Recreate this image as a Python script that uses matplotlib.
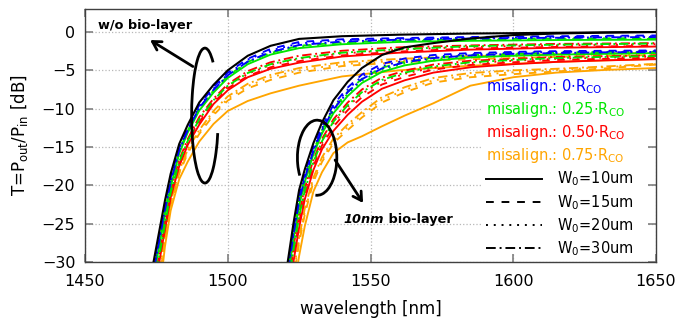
import matplotlib
matplotlib.use("Agg")
import matplotlib.pyplot as plt
import matplotlib.patches as patches
from matplotlib.lines import Line2D

# ---- values, T in dB ----
# w/o bio-layer
wl_free = [1472, 1474, 1476, 1478, 1480, 1483, 1486, 1490, 1495, 1500,
           1507, 1515, 1525, 1540, 1560, 1585, 1615, 1650]
free_black = [-34, -30, -26, -22, -18.5, -14.6, -12.1, -9.2, -6.9, -5.0,
              -3.1, -1.8, -0.9, -0.55, -0.35, -0.2, -0.1, 0.0]
free_blue = {
    15: [-34.7, -30.65, -26.6, -22.6, -19.1, -15.0, -12.4, -9.55, -7.2, -5.3,
         -3.5, -2.2, -1.3, -0.95, -0.8, -0.65, -0.55, -0.45],
    20: [-35.05, -30.95, -26.9, -22.9, -19.3, -15.2, -12.6, -9.7, -7.4, -5.5,
         -3.6, -2.4, -1.5, -1.05, -0.9, -0.75, -0.65, -0.55],
    30: [-35.4, -31.3, -27.25, -23.2, -19.6, -15.4, -12.8, -9.9, -7.55, -5.65,
         -3.85, -2.6, -1.7, -1.25, -1.0, -0.85, -0.75, -0.65],
}
free_green = {
    10: [-36.15, -31.95, -27.9, -23.8, -20.2, -15.85, -13.1, -10.25, -7.9, -6.0,
         -4.2, -2.95, -2.1, -1.6, -1.3, -1.15, -1.05, -1.0],
    15: [-35.6, -31.45, -27.4, -23.35, -19.75, -15.5, -12.85, -10.0, -7.6, -5.75,
         -3.9, -2.7, -1.8, -1.35, -1.1, -0.95, -0.85, -0.8],
    20: [-35.8, -31.6, -27.55, -23.5, -19.9, -15.6, -12.95, -10.05, -7.7, -5.8,
         -4.0, -2.75, -1.9, -1.45, -1.2, -1.05, -0.95, -0.9],
    30: [-38.5, -34.05, -29.25, -25.1, -21.0, -16.95, -14.2, -11.4, -8.9, -7.0,
         -5.35, -4.2, -3.4, -2.7, -2.25, -1.85, -1.65, -1.5],
}
free_red = {
    10: [-40, -35, -30, -25.8, -21.6, -17.5, -14.7, -12.1, -9.4, -7.6,
         -5.9, -4.8, -4.0, -3.2, -2.7, -2.3, -2.05, -1.9],
    15: [-39.2, -34.7, -29.75, -25.55, -21.4, -17.35, -14.55, -11.75, -9.25, -7.35,
         -5.75, -4.6, -3.8, -3.05, -2.55, -2.15, -1.95, -1.8],
    20: [-38.6, -34.2, -29.35, -25.2, -21.1, -17.05, -14.3, -11.5, -9.0, -7.1,
         -5.45, -4.3, -3.5, -2.8, -2.3, -1.95, -1.75, -1.6],
    30: [-37.9, -33.55, -28.85, -24.7, -20.7, -16.65, -13.95, -11.1, -8.7, -6.8,
         -5.1, -3.95, -3.1, -2.45, -2.0, -1.75, -1.55, -1.45],
}
free_orange = {
    10: [-46, -41, -34.5, -28, -23.3, -19.2, -16.9, -14.3, -12.0, -10.3,
         -9.0, -8.0, -7.0, -5.8, -5.0, -4.4, -3.9, -3.5],
    15: [-43.3, -38.3, -32.5, -27.0, -22.55, -18.45, -15.8, -13.3, -10.85, -8.95,
         -7.35, -6.25, -5.3, -4.45, -3.95, -3.55, -3.25, -3.0],
    20: [-42.7, -37.7, -32.0, -26.8, -22.4, -18.3, -15.5, -13.05, -10.6, -8.7,
         -7.05, -5.9, -5.0, -4.2, -3.75, -3.35, -3.05, -2.85],
    30: [-42.1, -37.1, -31.6, -26.6, -22.2, -18.1, -15.3, -12.8, -10.3, -8.4,
         -6.75, -5.6, -4.7, -3.95, -3.5, -3.15, -2.9, -2.7],
}

# 10nm bio-layer
wl_bio = [1519, 1521, 1523, 1525, 1527, 1530, 1533, 1537, 1542, 1547,
          1554, 1562, 1572, 1585, 1600, 1615, 1632, 1650]
bio_black = [-34, -30, -25, -20.6, -17.9, -14.5, -11.8, -8.9, -6.5, -4.7,
             -3.0, -2.0, -1.45, -0.85, -0.4, -0.2, -0.08, 0.0]
bio_blue = {
    15: [-34.9, -30.75, -25.75, -21.35, -18.5, -15.0, -12.35, -9.5, -7.25, -5.55,
         -4.15, -3.45, -3.0, -2.75, -2.6, -2.5, -2.45, -2.4],
    20: [-35.3, -31.1, -26.1, -21.7, -18.75, -15.3, -12.55, -9.8, -7.5, -5.8,
         -4.45, -3.7, -3.2, -2.9, -2.7, -2.6, -2.55, -2.5],
    30: [-35.8, -31.5, -26.5, -22.05, -19.05, -15.55, -12.85, -10.1, -7.85, -6.15,
         -4.75, -3.95, -3.4, -3.05, -2.85, -2.75, -2.65, -2.6],
}
bio_green = {
    10: [-36.5, -32.1, -27.1, -22.65, -19.55, -15.95, -13.25, -10.6, -8.35, -6.65,
         -5.2, -4.35, -3.75, -3.3, -3.1, -2.95, -2.85, -2.75],
    15: [-35.7, -31.4, -26.4, -21.95, -19.0, -15.5, -12.8, -10.0, -7.8, -6.1,
         -4.65, -3.9, -3.35, -3.0, -2.85, -2.7, -2.6, -2.6],
    20: [-36.1, -31.75, -26.75, -22.3, -19.25, -15.75, -13.05, -10.3, -8.05, -6.35,
         -4.95, -4.1, -3.55, -3.15, -2.95, -2.85, -2.75, -2.65],
    30: [-38.2, -33.5, -28.5, -24.05, -20.65, -16.95, -14.25, -11.7, -9.55, -7.85,
         -6.25, -5.3, -4.5, -3.95, -3.65, -3.4, -3.25, -3.15],
}
bio_red = {
    10: [-40, -35, -30, -25.5, -21.8, -18.0, -15.3, -12.9, -10.8, -9.1,
         -7.4, -6.3, -5.3, -4.6, -4.2, -3.9, -3.7, -3.55],
    15: [-39.15, -34.3, -29.3, -24.8, -21.25, -17.5, -14.8, -12.35, -10.2, -8.5,
         -6.85, -5.85, -4.9, -4.3, -3.95, -3.65, -3.5, -3.35],
    20: [-38.5, -33.75, -28.75, -24.3, -20.85, -17.15, -14.45, -11.9, -9.75, -8.05,
         -6.45, -5.45, -4.65, -4.05, -3.75, -3.5, -3.35, -3.2],
    30: [-37.7, -33.1, -28.1, -23.65, -20.3, -16.65, -13.95, -11.4, -9.2, -7.5,
         -5.95, -5.05, -4.25, -3.75, -3.5, -3.25, -3.15, -3.05],
}
bio_orange = {
    10: [-45, -40, -34, -29.2, -25.3, -20.8, -18.3, -15.8, -14.4, -13.6,
         -12.3, -10.9, -9.3, -7.0, -5.9, -5.3, -4.95, -4.7],
    15: [-42.75, -37.75, -32.2, -27.55, -23.75, -19.55, -16.95, -14.5, -12.8, -11.15,
         -9.2, -7.85, -6.6, -5.9, -5.5, -5.15, -4.75, -4.25],
    20: [-42.25, -37.25, -31.8, -27.15, -23.4, -19.25, -16.65, -14.2, -12.4, -10.8,
         -8.85, -7.55, -6.3, -5.65, -5.25, -4.95, -4.6, -4.2],
    30: [-41.75, -36.75, -31.4, -26.8, -23.0, -19.0, -16.35, -13.9, -12.05, -10.45,
         -8.5, -7.2, -6.0, -5.35, -5.0, -4.8, -4.5, -4.15],
}

misalign = ["0", "0.25", "0.50", "0.75"]
w0_um = [10, 15, 20, 30]

colors = ["#0000ff", "#00e600", "#ff0000", "#ffa500"]
styles = {10: "-", 15: (0, (4, 4)), 20: (0, (1, 3)), 30: (0, (5, 2, 1, 2))}

fig = plt.figure(figsize=(6.8, 3.25), dpi=100)
ax = fig.add_axes([85 / 680, 1 - 262 / 325, 571 / 680, 253 / 325])

families = [
    (wl_free, free_black, [free_blue, free_green, free_red, free_orange]),
    (wl_bio, bio_black, [bio_blue, bio_green, bio_red, bio_orange]),
]
for wl, black, groups in families:
    for col, grp in reversed(list(zip(colors, groups))):
        for w0, vals in grp.items():
            ax.plot(wl, vals, color=col, lw=1.35, ls=styles[w0], zorder=2)
    ax.plot(wl, black, color="k", lw=1.5, zorder=3)

ax.set_xlim(1450, 1650)
ax.set_ylim(-30, 3)
ax.set_xticks(range(1450, 1651, 50))
ax.set_yticks(range(-30, 1, 5))
ax.set_axisbelow(True)
ax.grid(True, color="#b8b8b8", ls=":", lw=0.9)
ax.tick_params(direction="in", top=True, right=True, length=6, width=1.2,
               color="#808080", labelsize=11.5, pad=7)
ax.tick_params(axis="x", pad=9)
for sp in ax.spines.values():
    sp.set_color("#404040")
    sp.set_linewidth(1.0)

ax.set_xlabel("wavelength [nm]", fontsize=12)
ax.set_ylabel(r"T=P$_{\rm out}$/P$_{\rm in}$ [dB]", fontsize=12)
ax.xaxis.set_label_coords(0.5, -0.15)
ax.yaxis.set_label_coords(-0.096, 0.5)

# key box (white, hides the grid)
ax.add_patch(patches.Rectangle((0.697, 0.035), 0.288, 0.70, transform=ax.transAxes,
                               facecolor="white", edgecolor="none", zorder=1))
key_y = [0.693, 0.602, 0.510, 0.419, 0.328, 0.236, 0.145, 0.054]
for i, (m, col) in enumerate(zip(misalign, colors)):
    ax.text(0.702, key_y[i], "misalign.: " + m + r"$\cdot$R$_{\rm CO}$", color=col,
            fontsize=10.5, va="center", ha="left", transform=ax.transAxes, zorder=4)
for j, w0 in enumerate(w0_um):
    y = key_y[4 + j]
    ax.add_line(Line2D([0.702, 0.800], [y, y], transform=ax.transAxes, color="k",
                       lw=1.4, ls=styles[w0], zorder=4))
    ax.text(0.827, y, "W$_0$=%dum" % w0, fontsize=10.5, va="center", ha="left",
            transform=ax.transAxes, zorder=4)

# annotations
ax.text(1454.5, 0.8, "w/o bio-layer", fontsize=9.3, fontweight="bold",
        va="center", ha="left")
ax.annotate("", xy=(1472.8, -1.05), xytext=(1487.8, -4.5),
            arrowprops=dict(arrowstyle="->,head_length=0.6,head_width=0.35",
                            lw=2, color="k", shrinkA=0, shrinkB=0))
ax.add_patch(patches.Arc((1492.0, -10.9), 9.3, 17.6, theta1=67.6, theta2=333,
                         lw=2, color="k", zorder=5))

t1 = ax.text(1540.4, -24.4, "10nm", fontsize=9.3, fontweight="bold",
             fontstyle="italic", va="center", ha="left")
ax.annotate(" bio-layer", xy=(1, 0), xycoords=t1, fontsize=9.3,
            fontweight="bold", va="bottom", ha="left")
ax.annotate("", xy=(1547.4, -22.3), xytext=(1537.6, -16.7),
            arrowprops=dict(arrowstyle="->,head_length=0.6,head_width=0.35",
                            lw=2, color="k", shrinkA=0, shrinkB=0))
ax.add_patch(patches.Arc((1531.3, -16.4), 13.8, 9.8, theta1=263, theta2=201,
                         lw=2, color="k", zorder=5))

fig.savefig("out.png", dpi=100)
